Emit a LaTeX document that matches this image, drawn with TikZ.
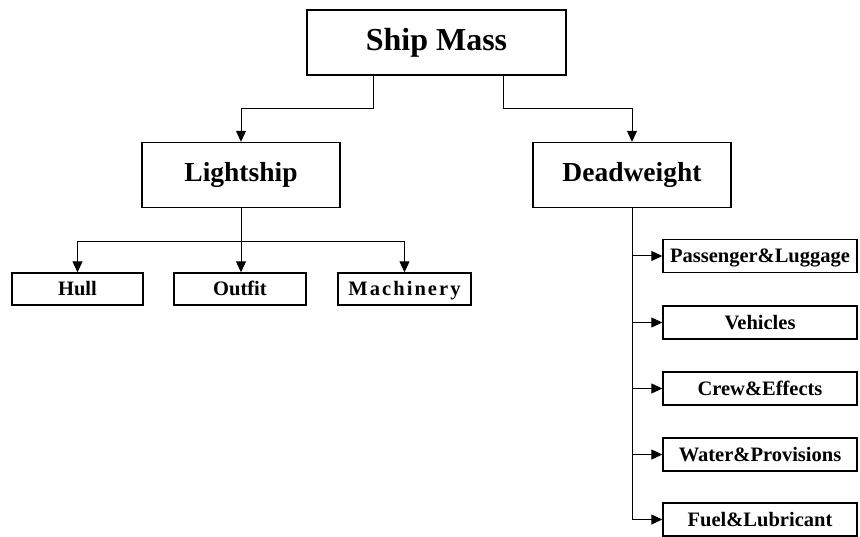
\documentclass[tikz,border=0pt]{standalone}
\usepackage{fontspec}
\setmainfont{Liberation Serif}
\usetikzlibrary{arrows.meta}
\begin{document}
\begin{tikzpicture}[x=1pt,y=-1pt,
  box/.style={draw, line width=1.4pt, inner sep=0pt, font=\bfseries},
  bigbox/.style={box, minimum height=65pt, font=\bfseries\fontsize{27.5}{30}\selectfont},
  smallbox/.style={box, minimum height=32pt, text height=13.6pt, text depth=0pt,
    font=\bfseries\fontsize{20.5}{22}\selectfont},
  sidebox/.style={smallbox, minimum width=194pt, minimum height=33pt},
  conn/.style={line width=1pt},
  arr/.style={conn, -{Triangle[width=10pt,length=11pt]}}]
\useasboundingbox (0,0) rectangle (860,537);
\node[bigbox, minimum width=259pt, font=\bfseries\fontsize{32}{35}\selectfont] (sm) at (436.5,42.5) {Ship Mass};
\node[bigbox, minimum width=198pt] (ls) at (241,175) {Lightship};
\node[bigbox, minimum width=198pt] (dw) at (632,175) {Deadweight};
\node[smallbox, minimum width=131pt] (hull) at (77.5,289) {Hull};
\node[smallbox, minimum width=132pt] (outfit) at (240,289) {Outfit};
\node[smallbox, minimum width=133pt, font=\bfseries\fontsize{20.5}{22}\selectfont\addfontfeature{LetterSpace=10}] (mach) at (404.5,289) {Machinery};
\node[sidebox] (pl) at (760,256) {Passenger\&Luggage};
\node[sidebox] (veh) at (760,322.5) {Vehicles};
\node[sidebox] (crew) at (760,388.5) {Crew\&Effects};
\node[sidebox] (wat) at (760,454.5) {Water\&Provisions};
\node[sidebox] (fuel) at (760,519.5) {Fuel\&Lubricant};
% Ship Mass to children
\draw[arr] ([xshift=-63.5pt]sm.south) -- ++(0,33) -| (ls.north);
\draw[arr] ([xshift=66.5pt]sm.south) -- ++(0,33) -| (dw.north);
% Lightship to children
\draw[conn] (ls.south) -- ++(0,33) coordinate (lj);
\draw[arr] (lj) -- (lj |- outfit.north);
\draw[arr] (lj) -| (hull.north);
\draw[arr] (lj) -| (mach.north);
% Deadweight to children
\draw[conn] (dw.south) -- (dw.south |- fuel.west);
\draw[arr] (dw.south |- pl.west) -- (pl.west);
\draw[arr] (dw.south |- veh.west) -- (veh.west);
\draw[arr] (dw.south |- crew.west) -- (crew.west);
\draw[arr] (dw.south |- wat.west) -- (wat.west);
\draw[arr] (dw.south |- fuel.west) -- (fuel.west);
\end{tikzpicture}
\end{document}
